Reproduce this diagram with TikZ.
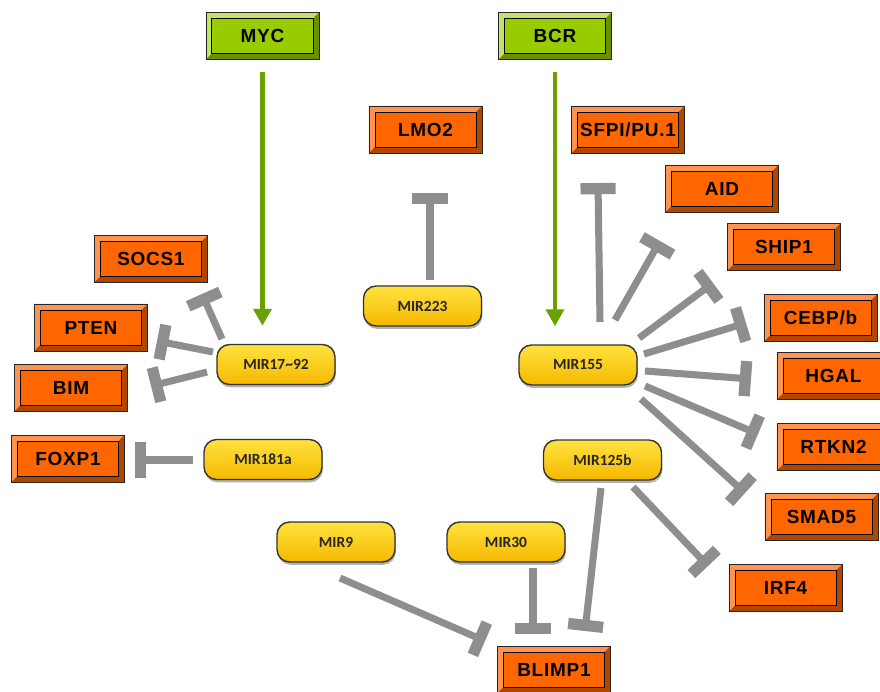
\documentclass[tikz,border=0pt]{standalone}
\usepackage{fontspec}
\setmainfont{Liberation Sans}
\newfontfamily\pillfont{Carlito}
\usetikzlibrary{arrows.meta,calc,shadows}
\definecolor{orng}{HTML}{FF6600}
\definecolor{orngL}{HTML}{FF9450}
\definecolor{orngD}{HTML}{B04600}
\definecolor{grn}{HTML}{99CC00}
\definecolor{grnL}{HTML}{C4E466}
\definecolor{grnD}{HTML}{6A8F00}
\definecolor{arrowgreen}{HTML}{6AA000}
\definecolor{inhgray}{HTML}{8E8E8E}
\definecolor{yelT}{HTML}{FFE23F}
\definecolor{yelB}{HTML}{F5B900}
\tikzset{
  bevelbox/.style n args={3}{
    rectangle, draw=black!85, line width=0.6pt, fill=#1,
    minimum width=2.825cm, minimum height=1.175cm, inner sep=0pt,
    font=\fontsize{13.5}{15}\selectfont\bfseries\addfontfeatures{LetterSpace=4},
    path picture={
      \path (path picture bounding box.north west) coordinate (pnw)
            (path picture bounding box.south east) coordinate (pse)
            (path picture bounding box.north east) coordinate (pne)
            (path picture bounding box.south west) coordinate (psw);
      \fill[#2] (pnw) -- (pne) -- ([shift={(-0.15cm,-0.15cm)}]pne) -- ([shift={(0.15cm,-0.15cm)}]pnw) -- cycle;
      \fill[#2] (pnw) -- (psw) -- ([shift={(0.15cm,0.15cm)}]psw) -- ([shift={(0.15cm,-0.15cm)}]pnw) -- cycle;
      \fill[#3] (psw) -- (pse) -- ([shift={(-0.15cm,0.15cm)}]pse) -- ([shift={(0.15cm,0.15cm)}]psw) -- cycle;
      \fill[#3] (pne) -- (pse) -- ([shift={(-0.15cm,0.15cm)}]pse) -- ([shift={(-0.15cm,-0.15cm)}]pne) -- cycle;
      \draw[black, line width=0.7pt] ([shift={(0.15cm,-0.15cm)}]pnw) rectangle ([shift={(-0.15cm,0.15cm)}]pse);
    }
  },
  gene/.style={bevelbox={orng}{orngL}{orngD}},
  src/.style={bevelbox={grn}{grnL}{grnD}},
  pill/.style={rectangle, rounded corners=9pt, draw=black!80, line width=1pt,
    top color=yelT, bottom color=yelB,
    minimum width=2.95cm, minimum height=1cm, inner sep=0pt,
    font=\pillfont\fontsize{11}{12}\selectfont\bfseries, text=black!85,
    drop shadow={shadow xshift=0.6pt, shadow yshift=-2pt, opacity=0.3, fill=black}},
  inh/.style={draw=inhgray, line width=5pt, -{Bar[width=25pt, line width=8pt]}},
  act/.style={draw=arrowgreen, line width=3.5pt, -{Triangle[width=12.5pt,length=12pt]}}
}
\begin{document}
\begin{tikzpicture}[x=0.025cm, y=-0.025cm]
\useasboundingbox (0,0) rectangle (880,691);
% source boxes
\node[src] (myc) at (262.5,36) {MYC};
\node[src] (bcr) at (555,36) {BCR};
% gene boxes
\node[gene] (lmo2) at (425.5,129.5) {LMO2};
\node[gene] (sfpi) at (628,129.5) {SFPI/PU.1};
\node[gene] (aid) at (722,188.5) {AID};
\node[gene] (ship1) at (784,247) {SHIP1};
\node[gene] (cebp) at (820.5,318) {CEBP/b};
\node[gene] (hgal) at (833.5,376) {HGAL};
\node[gene] (rtkn2) at (833.5,447) {RTKN2};
\node[gene] (smad5) at (821.5,517) {SMAD5};
\node[gene] (irf4) at (785.5,588) {IRF4};
\node[gene] (blimp1) at (554,669.5) {BLIMP1};
\node[gene] (socs1) at (151,259) {SOCS1};
\node[gene] (pten) at (91,327.5) {PTEN};
\node[gene] (bim) at (71,388) {BIM};
\node[gene] (foxp1) at (68,458.5) {FOXP1};
% microRNAs
\node[pill] (mir223) at (422.5,306) {MIR223};
\node[pill] (mir17) at (276,364.5) {MIR17\textasciitilde92};
\node[pill] (mir181) at (263,459.5) {MIR181a};
\node[pill] (mir155) at (578,365) {MIR155};
\node[pill] (mir125) at (602.5,460) {MIR125b};
\node[pill] (mir9) at (336,542) {MIR9};
\node[pill] (mir30) at (506,542) {MIR30};
% activation arrows
\draw[act] ([yshift=-0.3cm]myc.south) -- ([yshift=0.45cm]myc.south |- mir17.north);
\draw[act] ([yshift=-0.3cm]bcr.south) -- ([yshift=0.45cm]bcr.south |- mir155.north);
% inhibitions
\draw[inh] ($(mir223)+(7.5,-26)$) -- ($(lmo2)+(4.5,63.5)$);
\draw[inh] ($(mir17)+(-54,-25.5)$) -- ($(socs1)+(51,35)$);
\draw[inh] ($(mir17)+(-63,-12.5)$) -- ($(pten)+(66,13.5)$);
\draw[inh] ($(mir17)+(-69,7.5)$) -- ($(bim)+(80,-2)$);
\draw[inh] ($(mir181)+(-70,0.5)$) -- ($(foxp1)+(67,1.5)$);
\draw[inh] ($(mir155)+(22,-43)$) -- ($(sfpi)+(-30,53.5)$);
\draw[inh] ($(mir155)+(37,-45)$) -- ($(aid)+(-62,52.5)$);
\draw[inh] ($(mir155)+(61,-27)$) -- ($(ship1)+(-71,36)$);
\draw[inh] ($(mir155)+(66,-11)$) -- ($(cebp)+(-74.5,5)$);
\draw[inh] ($(mir155)+(67,6)$) -- ($(hgal)+(-82.5,3)$);
\draw[inh] ($(mir155)+(67,21)$) -- ($(rtkn2)+(-75.5,-13)$);
\draw[inh] ($(mir155)+(63,34)$) -- ($(smad5)+(-76.5,-24)$);
\draw[inh] ($(mir125)+(30.5,27)$) -- ($(irf4)+(-77.5,-22)$);
\draw[inh] ($(mir125)+(-1.5,28)$) -- ($(blimp1)+(31,-38.5)$);
\draw[inh] ($(mir30)+(27,26)$) -- ($(blimp1)+(-21,-35.5)$);
\draw[inh] ($(mir9)+(4,36)$) -- ($(blimp1)+(-69,-28.5)$);
\end{tikzpicture}
\end{document}
